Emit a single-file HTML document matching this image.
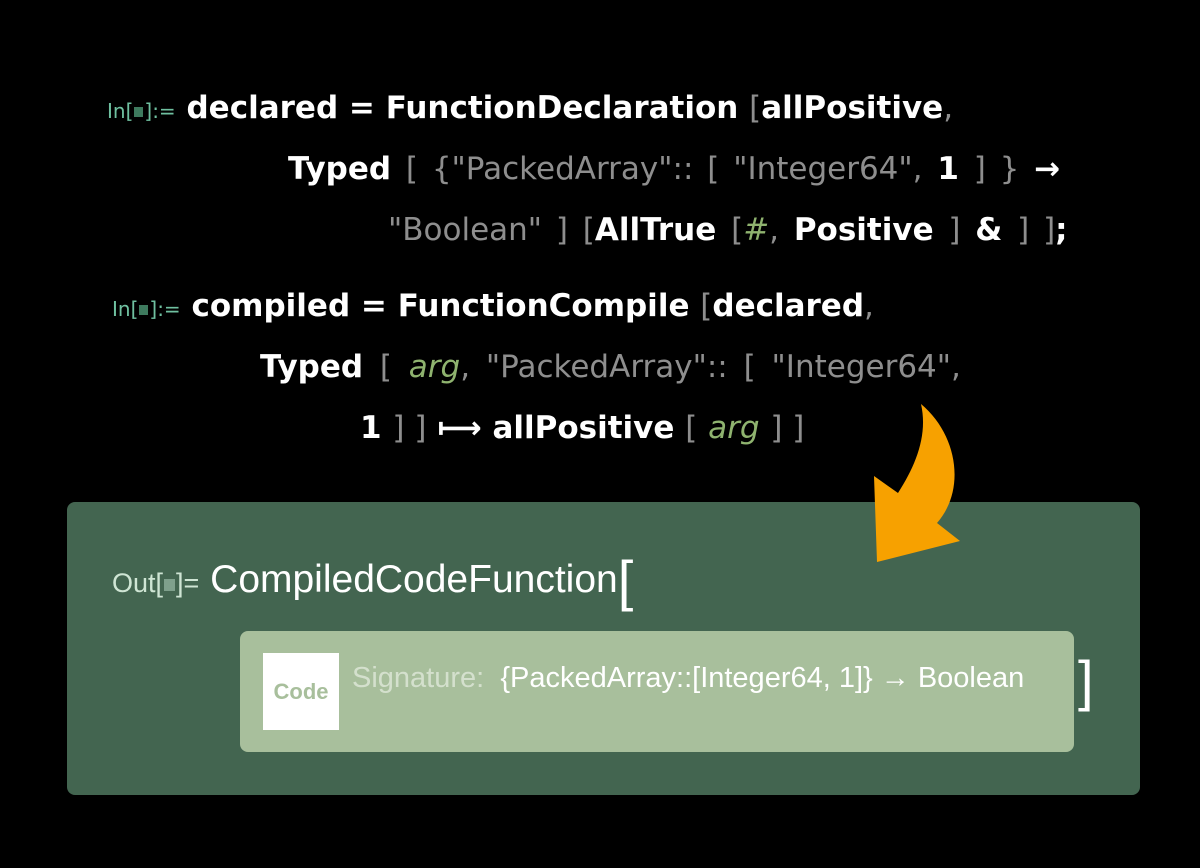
<!DOCTYPE html>
<html><head><meta charset="utf-8"><style>
body{margin:0;width:1200px;height:868px;background:#000;position:relative;overflow:hidden;font-family:"DejaVu Sans","Liberation Sans",sans-serif}
.l{position:absolute;white-space:nowrap;font-size:31px;font-weight:bold;color:#fff;line-height:40px}
.g{color:#8e8e8e;font-weight:normal}
.it{color:#8fb36f;font-style:italic;font-weight:normal}
.lab{font-size:20px;font-weight:normal;color:#6fc0a0}
.sq{display:inline-block;width:9px;height:10px;background:#3e7a5e;vertical-align:1px;margin:0 1px}
</style></head><body>
<div class="l" style="left:107px;top:88px"><span class="lab">In[<span class="sq"></span>]:=</span> declared = FunctionDeclaration <span class="g">[</span>allPositive<span class="g">,</span></div>
<div class="l" style="left:288px;top:149px;word-spacing:4px">Typed <span class="g">[ {"PackedArray":: [ "Integer64",</span> 1 <span class="g">] }</span> →</div>
<div class="l" style="left:388px;top:210px;word-spacing:4px"><span class="g">"Boolean" ]</span> <span class="g">[</span>AllTrue <span class="g">[</span><span class="it">#</span><span class="g">,</span> Positive <span class="g">]</span> &amp; <span class="g">] ]</span>;</div>
<div class="l" style="left:112px;top:286px"><span class="lab">In[<span class="sq"></span>]:=</span> compiled = FunctionCompile <span class="g">[</span>declared<span class="g">,</span></div>
<div class="l" style="left:260px;top:347px;word-spacing:6px">Typed <span class="g">[</span> <span class="it">arg</span><span class="g">, "PackedArray":: [ "Integer64",</span></div>
<div class="l" style="left:360px;top:408px">1 <span class="g">] ]</span> ⟼ allPositive <span class="g">[</span> <span class="it">arg</span> <span class="g">] ]</span></div>

<div style="position:absolute;left:67px;top:502px;width:1073px;height:293px;background:#436550;border-radius:8px"></div>
<div style="position:absolute;left:112px;top:548px;color:#fff;font-family:'Liberation Sans',sans-serif;font-size:39px;white-space:nowrap"><span style="font-size:27px;color:#cfe5d4">Out[<span class="sq" style="background:#7fa08c;width:11px;height:12px"></span>]=</span> CompiledCodeFunction<span style="font-size:56px;font-weight:100;vertical-align:-8px">[</span></div>
<div style="position:absolute;left:240px;top:631px;width:834px;height:121px;background:#a8bf9c;border-radius:8px"></div>
<div style="position:absolute;left:263px;top:653px;width:76px;height:77px;background:#fff;color:#a8bf9c;font-weight:bold;font-size:22px;line-height:77px;text-align:center;font-family:'Liberation Sans',sans-serif">Code</div>
<div style="position:absolute;left:352px;top:662px;font-family:'Liberation Sans',sans-serif;font-size:29px;white-space:nowrap;color:#fff"><span style="color:#d4e0cd">Signature:</span>&nbsp; {PackedArray::[Integer64, 1]} → Boolean</div>
<div style="position:absolute;left:1078px;top:648px;color:#fff;font-size:56px;font-weight:100;font-family:'Liberation Sans',sans-serif">]</div>
<svg style="position:absolute;left:0;top:0" width="1200" height="868"><path d="M921,404 C958,435 966,490 937,523 L960,541 L877,562 L874,476 L898,493 C916,465 928,435 921,404 Z" fill="#f7a100"/></svg>
</body></html>
